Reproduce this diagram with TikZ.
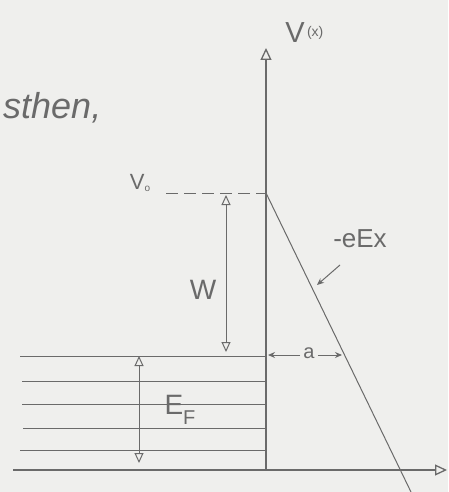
\documentclass[tikz,border=0pt]{standalone}
\usepackage{fontspec}
\setmainfont{Liberation Sans}
\usetikzlibrary{arrows.meta}
\definecolor{pencil}{HTML}{6A6A6A}
\definecolor{paper}{HTML}{EFEFED}
\tikzset{
  pen/.style={draw=pencil, line width=1.3pt},
  thinpen/.style={draw=pencil, line width=1pt},
  hollow/.style={-{Triangle[open,length=12pt,width=11pt]}},
  hollowboth/.style={{Triangle[open,length=10pt,width=9pt]}-{Triangle[open,length=10pt,width=9pt]}},
  small/.style={-{Stealth[length=7pt,width=6pt]}},
  lbl/.style={text=pencil, inner sep=0pt}
}
\begin{document}
\begin{tikzpicture}[x=1pt,y=-1pt]
\fill[paper] (0,0) rectangle (448,492);
\useasboundingbox (0,0) rectangle (448,492);
% coordinates
\coordinate (O) at (266,470);
\coordinate (Ytop) at (266,48);
\coordinate (Xstart) at (13,470);
\coordinate (Xend) at (447,470);
\coordinate (V0) at (266,193);
\coordinate (Lend) at (411,492);
% axes
\draw[pen,hollow] (O) -- (Ytop);
\draw[pen,hollow] (Xstart) -- (Xend);
% slanted potential
\begin{scope}
\clip (0,0) rectangle (448,492);
\draw[thinpen] (V0) -- (Lend);
\end{scope}
% dashed V0 level
\draw[thinpen,dash pattern=on 12pt off 6pt] (166,193) -- (V0);
% Fermi sea lines
\foreach \yy/\xs in {356/20,381/22,404/22,428/23,450/20}{
  \draw[thinpen] (\xs,\yy) -- (266,\yy);
}
% labels
\node[lbl,font=\fontsize{29}{29}\selectfont] (Vx) at (295,33) {V};
\node[lbl,font=\fontsize{14}{14}\selectfont,anchor=west] (Vxarg) at ([xshift=2pt]Vx.east) {(x)};
\node[lbl,font=\itshape\fontsize{36}{36}\selectfont,anchor=west] (then) at (3,108) {sthen,};
\node[lbl,font=\fontsize{22}{22}\selectfont] (V0l) at (140,183) {V\raisebox{-2pt}{\fontsize{10}{10}\selectfont o}};
\node[lbl,font=\fontsize{26}{26}\selectfont] (eEx) at (360,239) {-eEx};
\coordinate (eExa) at (340,265);
\coordinate (eExb) at (317,285);
\draw[thinpen,small] (eExa) -- (eExb);
% W arrow
\coordinate (Wt) at (226,195);
\coordinate (Wb) at (226,352);
\draw[thinpen,hollowboth] (Wt) -- (Wb);
\node[lbl,font=\fontsize{28}{28}\selectfont] (W) at (203,290) {W};
% E_F arrow
\coordinate (Et) at (139,356);
\coordinate (Eb) at (139,463);
\draw[thinpen,hollowboth] (Et) -- (Eb);
\node[lbl,font=\fontsize{28}{28}\selectfont] (EF) at (180,410) {E\raisebox{-10pt}{\fontsize{20}{20}\selectfont F}};
% a dimension
\node[lbl,font=\fontsize{20}{20}\selectfont] (a) at (309,353) {a};
\coordinate (aL) at (268,355);
\coordinate (aR) at (342,355);
\draw[thinpen,small] (a.west) ++(-3pt,2) -- (aL);
\draw[thinpen,small] (a.east) ++(3pt,2) -- (aR);
\end{tikzpicture}
\end{document}
